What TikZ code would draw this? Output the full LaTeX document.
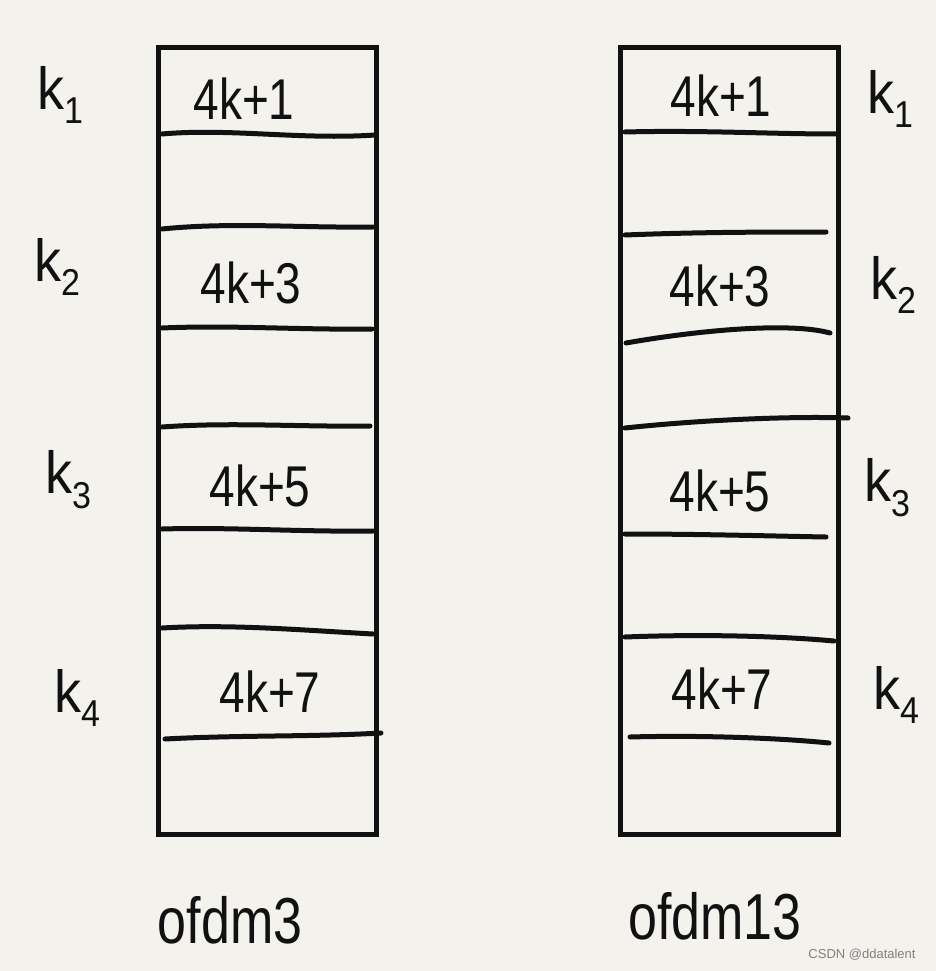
\documentclass[tikz,border=0pt]{standalone}
\usepackage{fontspec}
\setmainfont{Liberation Sans}
\definecolor{paper}{HTML}{F4F2ED}
\definecolor{ink}{HTML}{111111}
\begin{document}
\begin{tikzpicture}[x=1pt,y=-1pt,
  ink line/.style={line width=5pt, draw=ink, line cap=round},
  boxcol/.style={draw=ink, line width=5pt, rectangle, minimum width=218pt, minimum height=786pt, inner sep=0pt},
  val/.style={font=\fontsize{46}{46}\selectfont, text=ink, yscale=1.25, transform shape, inner sep=0pt},
  klab/.style={font=\fontsize{54}{54}\selectfont, text=ink, yscale=1.1, transform shape, inner sep=0pt},
  captext/.style={font=\fontsize{52}{52}\selectfont, text=ink, yscale=1.25, transform shape, inner sep=0pt}]
\fill[paper] (0,0) rectangle (936,971);
\useasboundingbox (0,0) rectangle (936,971);
% boxes
\node[boxcol] (L) at (267,441) {};
\node[boxcol] (R) at (729,441) {};
% left separators
\draw[ink line] (162,134) .. controls (230,128) and (300,140) .. (375,135);
\draw[ink line] (162,229) .. controls (230,222) and (300,228) .. (373,227);
\draw[ink line] (162,328) .. controls (230,325) and (300,330) .. (372,329);
\draw[ink line] (162,427) .. controls (230,422) and (300,427) .. (370,426);
\draw[ink line] (162,529) .. controls (230,527) and (300,532) .. (373,531);
\draw[ink line] (162,628) .. controls (230,624) and (300,630) .. (373,634);
\draw[ink line] (165,739) .. controls (240,735) and (310,737) .. (381,733);
% right separators
\draw[ink line] (625,132) .. controls (700,130) and (770,134) .. (836,134);
\draw[ink line] (625,235) .. controls (700,232) and (770,232) .. (826,232);
\draw[ink line] (626,343) .. controls (700,330) and (790,322) .. (830,333);
\draw[ink line] (625,428) .. controls (700,420) and (790,416) .. (848,418);
\draw[ink line] (625,534) .. controls (700,534) and (770,536) .. (826,537);
\draw[ink line] (625,637) .. controls (700,634) and (780,636) .. (834,641);
\draw[ink line] (630,737) .. controls (700,735) and (780,738) .. (829,743);
% values left
\node[val] (l1) at (244,99) {4k+1};
\node[val] (l3) at (251,283) {4k+3};
\node[val] (l5) at (260,486) {4k+5};
\node[val] (l7) at (270,692) {4k+7};
% values right
\node[val] (r1) at (721,96) {4k+1};
\node[val] (r3) at (720,286) {4k+3};
\node[val] (r5) at (720,491) {4k+5};
\node[val] (r7) at (722,689) {4k+7};
% k labels left
\node[klab] (k1l) at (60,95) {k\raisebox{-0.25em}{\fontsize{34}{34}\selectfont 1}};
\node[klab] (k2l) at (57,267) {k\raisebox{-0.25em}{\fontsize{34}{34}\selectfont 2}};
\node[klab] (k3l) at (68,480) {k\raisebox{-0.25em}{\fontsize{34}{34}\selectfont 3}};
\node[klab] (k4l) at (77,698) {k\raisebox{-0.25em}{\fontsize{34}{34}\selectfont 4}};
% k labels right
\node[klab] (k1r) at (890,99) {k\raisebox{-0.25em}{\fontsize{34}{34}\selectfont 1}};
\node[klab] (k2r) at (893,285) {k\raisebox{-0.25em}{\fontsize{34}{34}\selectfont 2}};
\node[klab] (k3r) at (887,488) {k\raisebox{-0.25em}{\fontsize{34}{34}\selectfont 3}};
\node[klab] (k4r) at (896,695) {k\raisebox{-0.25em}{\fontsize{34}{34}\selectfont 4}};
% captions
\node[captext] (c3) at (230,920) {ofdm3};
\node[captext] (c13) at (715,916) {ofdm13};
% watermark
\node[font=\fontsize{13}{13}\selectfont, text=black!50, inner sep=0pt] (wm) at (862,955) {CSDN @ddatalent};
\end{tikzpicture}
\end{document}
